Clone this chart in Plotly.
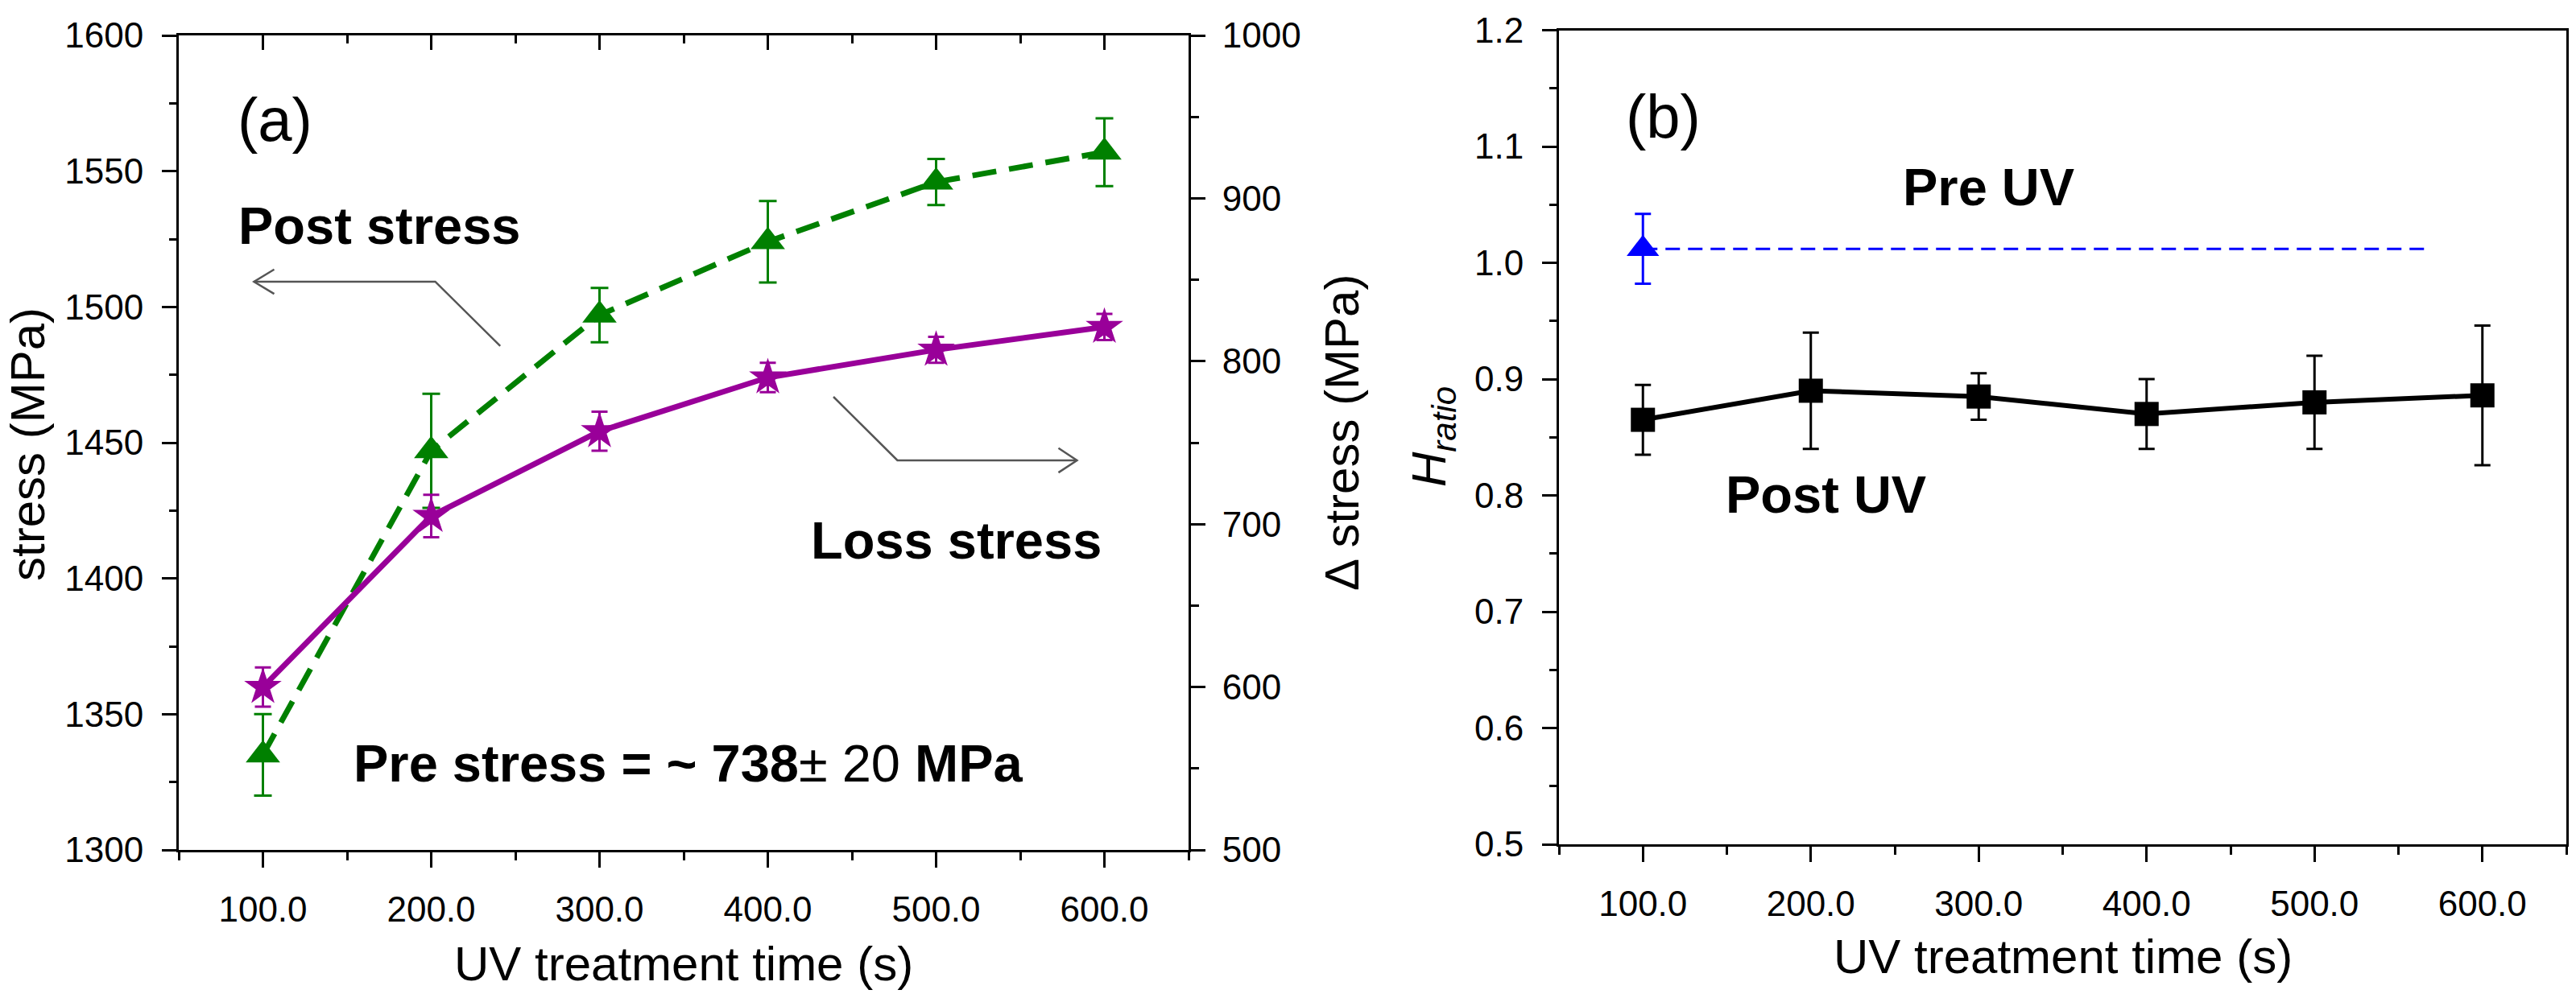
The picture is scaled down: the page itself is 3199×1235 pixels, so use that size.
import plotly.graph_objects as go

# ---------------- data ----------------
time_s = [100, 200, 300, 400, 500, 600]
post_stress = [1335, 1447, 1497, 1524, 1546, 1557]
post_stress_err = [15, 21, 10, 15, 8.5, 12.5]
loss_stress = [600, 705, 757, 790, 807, 821]
loss_stress_err = [12, 13, 12, 9, 8, 8]

pre_uv_time = [100]
pre_uv_h = [1.012]
pre_uv_err = [0.03]
pre_uv_line_time = [100, 570]
post_uv_h = [0.865, 0.89, 0.885, 0.87, 0.88, 0.886]
post_uv_err = [0.03, 0.05, 0.02, 0.03, 0.04, 0.06]

# ---------------- style ----------------
W, H = 3199, 1235
FONT = "Liberation Sans, Arial, sans-serif"
GREEN = "#008000"
MAGENTA = "#990099"
BLUE = "#0000ff"
BLACK = "#000000"
GREY = "#555555"
TICK_FS = 44
TITLE_FS = 60
BOLD_FS = 65


def px_x(p):
    return p / W


def px_y(p):
    return (H - p) / H


# plot-area pixel boxes
A_L, A_R, A_T, A_B = 222, 1476, 44, 1056
B_L, B_R, B_T, B_B = 1936, 3187, 37.5, 1049

fig = go.Figure()

# Panel (a): post stress (left axis)
fig.add_trace(go.Scatter(
    x=time_s, y=post_stress, xaxis="x", yaxis="y", mode="lines+markers",
    line=dict(color=GREEN, width=7, dash="30px,16px"),
    marker=dict(symbol="triangle-up", size=37, color=GREEN),
    error_y=dict(type="data", array=post_stress_err, visible=True,
                 color=GREEN, thickness=3, width=11),
    showlegend=False, name="Post stress"))

# Panel (a): loss stress (right axis)
fig.add_trace(go.Scatter(
    x=time_s, y=loss_stress, xaxis="x", yaxis="y2", mode="lines+markers",
    line=dict(color=MAGENTA, width=7),
    marker=dict(symbol="star", size=35, color=MAGENTA),
    error_y=dict(type="data", array=loss_stress_err, visible=True,
                 color=MAGENTA, thickness=3, width=10),
    showlegend=False, name="Loss stress"))

# empty trace so the top (inward-tick) axis of panel (a) is drawn
fig.add_trace(go.Scatter(x=[], y=[], xaxis="x3", yaxis="y", mode="markers",
                         showlegend=False, hoverinfo="skip"))

# Panel (b)
fig.add_trace(go.Scatter(
    x=pre_uv_line_time, y=[pre_uv_h[0]] * len(pre_uv_line_time),
    xaxis="x2", yaxis="y3", mode="lines",
    line=dict(color=BLUE, width=3, dash="18px,10px"),
    showlegend=False, hoverinfo="skip"))
fig.add_trace(go.Scatter(
    x=pre_uv_time, y=pre_uv_h, xaxis="x2", yaxis="y3", mode="markers",
    marker=dict(symbol="triangle-up", size=35, color=BLUE),
    error_y=dict(type="data", array=pre_uv_err, visible=True,
                 color=BLUE, thickness=3, width=10),
    showlegend=False, name="Pre UV"))
fig.add_trace(go.Scatter(
    x=time_s, y=post_uv_h, xaxis="x2", yaxis="y3", mode="lines+markers",
    line=dict(color=BLACK, width=6),
    marker=dict(symbol="square", size=30, color=BLACK),
    error_y=dict(type="data", array=post_uv_err, visible=True,
                 color=BLACK, thickness=3, width=10),
    showlegend=False, name="Post UV"))

tickfont = dict(family=FONT, size=TICK_FS, color=BLACK)
common = dict(showgrid=False, zeroline=False, showline=True, linecolor=BLACK,
              linewidth=3, tickcolor=BLACK, tickwidth=3, tickfont=tickfont,
              automargin=False, fixedrange=True)

xcommon = dict(range=[50, 650], tick0=0, dtick=100, tickformat=".1f", **common)

fig.update_layout(
    template="none",
    width=W, height=H,
    margin=dict(l=0, r=0, t=0, b=0),
    paper_bgcolor="white", plot_bgcolor="white",
    xaxis=dict(domain=[px_x(A_L), px_x(A_R)], anchor="y", ticks="outside",
               ticklen=19, ticklabelstandoff=14,
               minor=dict(ticks="outside", ticklen=10, tickwidth=3,
                          tickcolor=BLACK, dtick=50, tick0=0),
               **xcommon),
    xaxis3=dict(overlaying="x", side="top", anchor="y", ticks="inside",
                ticklen=18, showticklabels=False,
                minor=dict(ticks="inside", ticklen=10, tickwidth=3,
                           tickcolor=BLACK, dtick=50, tick0=0),
                **xcommon),
    yaxis=dict(domain=[px_y(A_B), px_y(A_T)], anchor="x", range=[1300, 1600],
               tick0=1300, dtick=50, ticks="outside", ticklen=18,
               ticklabelstandoff=14,
               minor=dict(ticks="outside", ticklen=9, tickwidth=3,
                          tickcolor=BLACK, dtick=25, tick0=1300),
               **common),
    yaxis2=dict(overlaying="y", side="right", anchor="x", range=[500, 1000],
                tick0=500, dtick=100, ticks="outside", ticklen=18,
                ticklabelstandoff=12,
                minor=dict(ticks="outside", ticklen=10, tickwidth=3,
                           tickcolor=BLACK, dtick=50, tick0=500),
                **common),
    xaxis2=dict(domain=[px_x(B_L), px_x(B_R)], anchor="y3", ticks="outside",
                ticklen=19, ticklabelstandoff=14, mirror=True,
                minor=dict(ticks="outside", ticklen=10, tickwidth=3,
                           tickcolor=BLACK, dtick=50, tick0=0),
                **xcommon),
    yaxis3=dict(domain=[px_y(B_B), px_y(B_T)], anchor="x2", range=[0.5, 1.2],
                tick0=0.5, dtick=0.1, tickformat=".1f", ticks="outside",
                ticklen=18, ticklabelstandoff=14, mirror=True,
                minor=dict(ticks="outside", ticklen=9, tickwidth=3,
                           tickcolor=BLACK, dtick=0.05, tick0=0.5),
                **common),
)

tfont = dict(family=FONT, size=TITLE_FS, color=BLACK)
bfont = dict(family=FONT, size=BOLD_FS, color=BLACK)
lfont = dict(family=FONT, size=76, color=BLACK)
C = dict(showarrow=False, xanchor="center", yanchor="middle")

ann = []
# axis titles
ann.append(dict(text="stress (MPa)", xref="paper", yref="paper",
                x=px_x(34), y=px_y(552), textangle=-90, font=tfont, **C))
ann.append(dict(text="Δ stress (MPa)", xref="paper", yref="paper",
                x=px_x(1667), y=px_y(537), textangle=-90, font=tfont, **C))
ann.append(dict(text="<i>H</i><sub><i>ratio</i></sub>", xref="paper",
                yref="paper", x=px_x(1779), y=px_y(543), textangle=-90,
                font=tfont, **C))
ann.append(dict(text="UV treatment time (s)", xref="paper", yref="paper",
                x=px_x((A_L + A_R) / 2), y=px_y(1197), font=tfont, **C))
ann.append(dict(text="UV treatment time (s)", xref="paper", yref="paper",
                x=px_x((B_L + B_R) / 2), y=px_y(1188), font=tfont, **C))

# panel labels / notes
ann.append(dict(text="(a)", xref="x", yref="y", x=107, y=1569, font=lfont, **C))
ann.append(dict(text="<b>Post stress</b>", xref="x", yref="y", x=169, y=1530,
                font=bfont, **C))
ann.append(dict(text="<b>Loss stress</b>", xref="x", yref="y", x=512, y=1414,
                font=bfont, **C))
ann.append(dict(text="<b>Pre stress = ~ 738</b>± 20 <b>MPa</b>", xref="x",
                yref="y", x=353, y=1332, font=bfont, **C))
ann.append(dict(text="(b)", xref="x2", yref="y3", x=112, y=1.126, font=lfont, **C))
ann.append(dict(text="<b>Pre UV</b>", xref="x2", yref="y3", x=306, y=1.065,
                font=bfont, **C))
ann.append(dict(text="<b>Post UV</b>", xref="x2", yref="y3", x=209, y=0.801,
                font=bfont, **C))
fig.update_layout(annotations=ann)

# pointer arrows (open V heads)
aline = dict(color=GREY, width=2.5)
fig.update_layout(shapes=[
    dict(type="path", xref="x", yref="y", line=aline,
         path="M 241,1485.6 L 202.4,1509.3 L 94.7,1509.3"),
    dict(type="path", xref="x", yref="y", line=aline,
         path="M 106.7,1513.8 L 94.7,1509.3 L 106.7,1504.8"),
    dict(type="path", xref="x", yref="y", line=aline,
         path="M 439,1466.9 L 477,1443.5 L 583.7,1443.5"),
    dict(type="path", xref="x", yref="y", line=aline,
         path="M 572.7,1448 L 583.7,1443.5 L 572.7,1439"),
])

fig.write_html("out.html", config={"displayModeBar": False},
               post_script="document.body.style.margin='0';"
                           "document.body.style.overflow='hidden';")
